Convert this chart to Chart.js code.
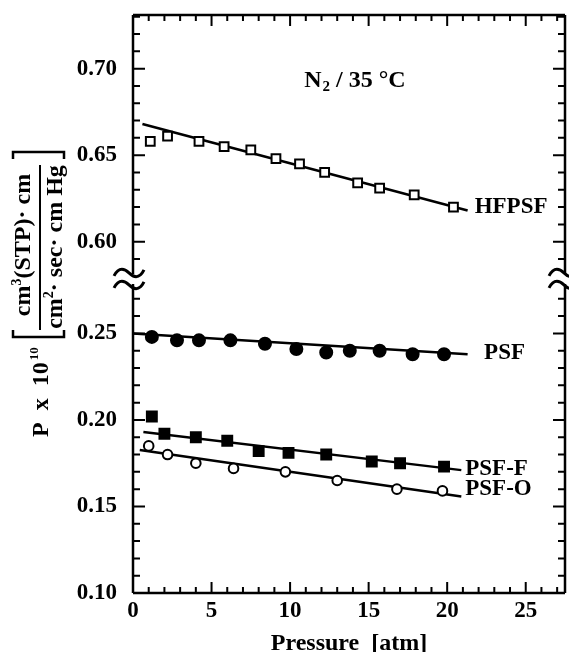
<!DOCTYPE html>
<html>
<head>
<meta charset="utf-8">
<script src="https://cdn.jsdelivr.net/npm/chart.js@4.4.0/dist/chart.umd.min.js"></script>
<style>
html, body { margin: 0; padding: 0; background: #fff; }
#wrap { width: 569px; height: 652px; }
</style>
</head>
<body>
<div id="wrap"><canvas id="c" width="569" height="652"></canvas></div>
<script>
// N2 / 35 C : permeability vs feed pressure
var pressHFPSF = [1.1, 2.2, 4.2, 5.8, 7.5, 9.1, 10.6, 12.2, 14.3, 15.7, 17.9, 20.4];
var permHFPSF  = [0.658, 0.661, 0.658, 0.655, 0.653, 0.648, 0.645, 0.640, 0.634, 0.631, 0.627, 0.620];

var pressPSF = [1.2, 2.8, 4.2, 6.2, 8.4, 10.4, 12.3, 13.8, 15.7, 17.8, 19.8];
var permPSF  = [0.248, 0.246, 0.246, 0.246, 0.244, 0.241, 0.239, 0.240, 0.240, 0.238, 0.238];

var pressPSFF = [1.2, 2.0, 4.0, 6.0, 8.0, 9.9, 12.3, 15.2, 17.0, 19.8];
var permPSFF  = [0.202, 0.192, 0.190, 0.188, 0.182, 0.181, 0.180, 0.176, 0.175, 0.173];

var pressPSFO = [1.0, 2.2, 4.0, 6.4, 9.7, 13.0, 16.8, 19.7];
var permPSFO  = [0.185, 0.180, 0.175, 0.172, 0.170, 0.165, 0.160, 0.159];

// straight fit lines (end points)
var fitPressHFPSF = [0.6, 21.3],  fitPermHFPSF = [0.668, 0.618];
var fitPressPSF   = [0.0, 21.3],  fitPermPSF   = [0.250, 0.238];
var fitPressPSFF  = [0.66, 20.9], fitPermPSFF  = [0.193, 0.171];
var fitPressPSFO  = [0.43, 20.9], fitPermPSFO  = [0.1826, 0.1557];

var xTicks = [0, 5, 10, 15, 20, 25];
var yTicksUpper = [0.60, 0.65, 0.70];
var yTicksLower = [0.10, 0.15, 0.20, 0.25];

var xMin = 0, xMax = 27.5;
var upperMin = 0.5785, upperMax = 0.731;
var lowerMin = 0.10, lowerMax = 0.2815;

var FONT = '"Liberation Serif", "Times New Roman", serif';

function pts(xs, ys) {
	return xs.map(function(x, i) { return { x: x, y: ys[i] }; });
}

function f(size) {
	return 'bold ' + size + 'px ' + FONT;
}

function markers(xs, ys, axis, style, r, fill) {
	return {
		data: pts(xs, ys), yAxisID: axis, showLine: false,
		pointStyle: style, pointRadius: r, pointHoverRadius: r,
		pointBackgroundColor: fill, pointBorderColor: '#000', pointBorderWidth: 2
	};
}

function fitLine(xs, ys, axis) {
	return {
		data: pts(xs, ys), yAxisID: axis, showLine: true,
		borderColor: '#000', borderWidth: 2.5, pointRadius: 0, pointHoverRadius: 0
	};
}

var tickFont = { family: FONT, size: 23, weight: 'bold' };

function yScale(min, max, ticks) {
	return {
		type: 'linear', position: 'left', stack: 'perm', stackWeight: max - min,
		min: min, max: max,
		grid: { display: false, drawTicks: false }, border: { display: false },
		afterBuildTicks: function(s) { s.ticks = ticks.map(function(v) { return { value: v }; }); },
		afterFit: function(s) { s.width = 60; s.paddingTop = 0; s.paddingBottom = 0; },
		ticks: { font: tickFont, color: '#000', padding: 16, autoSkip: false,
			callback: function(v) { return Number(v).toFixed(2); } }
	};
}

// frame, inward ticks, axis breaks and all hand placed text
var decor = {
	id: 'decor',
	afterDraw: function(chart) {
		var ctx = chart.ctx, a = chart.chartArea;
		var sx = chart.scales.x, su = chart.scales.yUp, sl = chart.scales.yLow;
		var brk = su.bottom;
		var k, p, len;

		ctx.save();
		ctx.strokeStyle = '#000';
		ctx.fillStyle = '#000';
		ctx.lineCap = 'butt';

		// frame
		ctx.lineWidth = 2.5;
		ctx.beginPath();
		ctx.moveTo(a.left, a.top); ctx.lineTo(a.right, a.top);
		ctx.moveTo(a.left, a.bottom); ctx.lineTo(a.right, a.bottom);
		ctx.moveTo(a.left, a.top); ctx.lineTo(a.left, brk - 5);
		ctx.moveTo(a.left, brk + 5); ctx.lineTo(a.left, a.bottom);
		ctx.moveTo(a.right, a.top); ctx.lineTo(a.right, brk - 5);
		ctx.moveTo(a.right, brk + 5); ctx.lineTo(a.right, a.bottom);
		ctx.stroke();

		// x ticks, bottom and top
		ctx.lineWidth = 2;
		ctx.beginPath();
		for (k = 1; k <= 27; k++) {
			p = sx.getPixelForValue(k);
			len = k % 5 === 0 ? 11 : 6;
			ctx.moveTo(p, a.bottom); ctx.lineTo(p, a.bottom - len);
			ctx.moveTo(p, a.top); ctx.lineTo(p, a.top + len);
		}
		// y ticks, left and right
		for (k = 59; k <= 73; k++) {
			p = su.getPixelForValue(k / 100);
			len = k % 5 === 0 ? 12 : 7;
			ctx.moveTo(a.left, p); ctx.lineTo(a.left + len, p);
			ctx.moveTo(a.right, p); ctx.lineTo(a.right - len, p);
		}
		for (k = 11; k <= 27; k++) {
			p = sl.getPixelForValue(k / 100);
			len = k % 5 === 0 ? 12 : 7;
			ctx.moveTo(a.left, p); ctx.lineTo(a.left + len, p);
			ctx.moveTo(a.right, p); ctx.lineTo(a.right - len, p);
		}
		ctx.stroke();

		// axis break marks
		ctx.lineWidth = 3;
		[a.left - 4, a.right - 1].forEach(function(cx) {
			[brk - 6, brk + 6].forEach(function(cy) {
				ctx.beginPath();
				ctx.moveTo(cx - 15, cy + 3);
				ctx.bezierCurveTo(cx - 10, cy - 7, cx - 4, cy - 4, cx, cy);
				ctx.bezierCurveTo(cx + 4, cy + 4, cx + 10, cy + 7, cx + 15, cy - 3);
				ctx.stroke();
			});
		});

		// series labels
		ctx.textAlign = 'left';
		ctx.textBaseline = 'middle';
		ctx.font = f(23);
		ctx.fillText('HFPSF', sx.getPixelForValue(21.75), su.getPixelForValue(0.620));
		ctx.fillText('PSF', sx.getPixelForValue(22.35), sl.getPixelForValue(0.2385));
		ctx.fillText('PSF-F', sx.getPixelForValue(21.15), sl.getPixelForValue(0.1714));
		ctx.fillText('PSF-O', sx.getPixelForValue(21.15), sl.getPixelForValue(0.1601));

		// gas / temperature
		ctx.textBaseline = 'alphabetic';
		var tx = sx.getPixelForValue(10.9), ty = su.getPixelForValue(0.6893);
		ctx.font = f(24);
		ctx.fillText('N', tx, ty);
		tx += ctx.measureText('N').width;
		ctx.font = f(15);
		ctx.fillText('2', tx + 1, ty + 4);
		tx += ctx.measureText('2').width + 1;
		ctx.font = f(24);
		ctx.fillText(' / 35 \u00B0C', tx, ty);

		// x title
		ctx.textAlign = 'center';
		ctx.font = f(24);
		ctx.fillText('Pressure  [atm]', (a.left + a.right) / 2, 650);

		// y title, rotated
		ctx.save();
		ctx.translate(a.left - 93, 437);
		ctx.rotate(-Math.PI / 2);
		ctx.textAlign = 'left';
		ctx.font = f(24);
		ctx.fillText('P  x  10', 0, 8);
		var w = ctx.measureText('P  x  10').width;
		ctx.font = f(13);
		ctx.fillText('10', w + 2, -2);

		ctx.lineWidth = 2.5;
		ctx.beginPath();
		ctx.moveTo(107, -27); ctx.lineTo(100, -27); ctx.lineTo(100, 24); ctx.lineTo(107, 24);
		ctx.moveTo(278, -27); ctx.lineTo(285, -27); ctx.lineTo(285, 24); ctx.lineTo(278, 24);
		ctx.stroke();
		ctx.lineWidth = 2;
		ctx.beginPath();
		ctx.moveTo(107, 0); ctx.lineTo(272, 0);
		ctx.stroke();

		function frac(parts, center, base) {
			var total = 0, i, x;
			parts.forEach(function(q) { ctx.font = f(q[1]); total += ctx.measureText(q[0]).width; });
			x = center - total / 2;
			for (i = 0; i < parts.length; i++) {
				ctx.font = f(parts[i][1]);
				ctx.fillText(parts[i][0], x, base + parts[i][2]);
				x += ctx.measureText(parts[i][0]).width;
			}
		}
		frac([['cm', 24, 0], ['3', 14, -9], ['(STP)\u00B7 cm', 24, 0]], 192, -10);
		frac([['cm', 24, 0], ['2', 14, -9], ['\u00B7 sec\u00B7 cm Hg', 24, 0]], 190, 22);
		ctx.restore();

		ctx.restore();
	}
};

new Chart(document.getElementById('c'), {
	type: 'scatter',
	data: {
		datasets: [
			markers(pressHFPSF, permHFPSF, 'yUp', 'rect', 6.2, '#fff'),
			markers(pressPSF, permPSF, 'yLow', 'circle', 6, '#000'),
			markers(pressPSFF, permPSFF, 'yLow', 'rect', 7, '#000'),
			markers(pressPSFO, permPSFO, 'yLow', 'circle', 4.8, '#fff'),
			fitLine(fitPressHFPSF, fitPermHFPSF, 'yUp'),
			fitLine(fitPressPSF, fitPermPSF, 'yLow'),
			fitLine(fitPressPSFF, fitPermPSFF, 'yLow'),
			fitLine(fitPressPSFO, fitPermPSFO, 'yLow')
		]
	},
	options: {
		responsive: false,
		devicePixelRatio: 1,
		animation: false,
		layout: { autoPadding: false, padding: { left: 73, right: 4, top: 15, bottom: 0 } },
		plugins: { legend: { display: false }, tooltip: { enabled: false } },
		scales: {
			x: {
				type: 'linear', min: xMin, max: xMax,
				grid: { display: false, drawTicks: false }, border: { display: false },
				afterBuildTicks: function(s) { s.ticks = xTicks.map(function(v) { return { value: v }; }); },
				afterFit: function(s) { s.height = 59; s.paddingLeft = 0; s.paddingRight = 0; },
				ticks: { font: tickFont, color: '#000', padding: 4, autoSkip: false, maxRotation: 0,
					callback: function(v) { return String(v); } }
			},
			// in a Chart.js axis stack the first one listed sits at the bottom
			yLow: yScale(lowerMin, lowerMax, yTicksLower),
			yUp: yScale(upperMin, upperMax, yTicksUpper)
		}
	},
	plugins: [decor]
});
</script>
</body>
</html>
